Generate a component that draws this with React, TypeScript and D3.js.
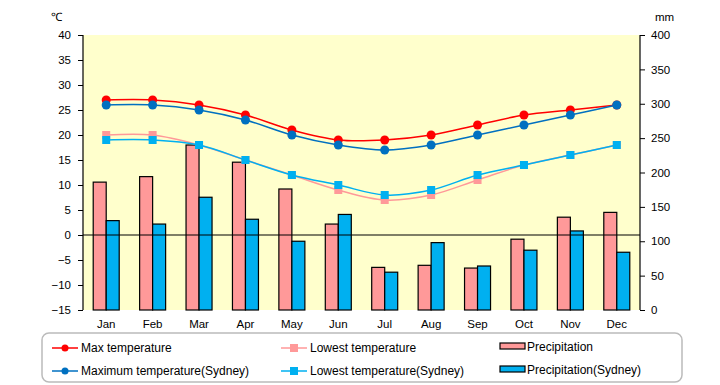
import React, { useRef, useEffect } from "react";
import * as d3 from "d3";

const months = ["Jan", "Feb", "Mar", "Apr", "May", "Jun", "Jul", "Aug", "Sep", "Oct", "Nov", "Dec"];
const maxTemp = [27, 27, 26, 24, 21, 19, 19, 20, 22, 24, 25, 26];
const lowTemp = [20, 20, 18, 15, 12, 9, 7, 8, 11, 14, 16, 18];
const maxTempSydney = [26, 26, 25, 23, 20, 18, 17, 18, 20, 22, 24, 26];
const lowTempSydney = [19, 19, 18, 15, 12, 10, 8, 9, 12, 14, 16, 18];
const precip = [186, 194, 240, 215, 176, 125, 62, 65, 61, 103, 135, 142];
const precipSydney = [130, 125, 164, 132, 100, 139, 55, 98, 64, 87, 115, 84];
const tempTicks = [-15, -10, -5, 0, 5, 10, 15, 20, 25, 30, 35, 40];
const mmTicks = [0, 50, 100, 150, 200, 250, 300, 350, 400];

const FONT = "'Liberation Sans', Arial, sans-serif";

const App: React.FC = () => {
  const ref = useRef<SVGSVGElement | null>(null);

  useEffect(() => {
    const svg = d3.select(ref.current);
    svg.selectAll("*").remove();

    const left = 83, right = 640, top = 35, bottom = 310;

    const x = d3.scaleBand<string>().domain(months).range([left, right]);
    const inner = d3.scaleBand<string>().domain(["a", "b"]).range([0, 26]);
    const xOff = (x.bandwidth() - 26) / 2;
    const yT = d3.scaleLinear().domain([-15, 40]).range([bottom, top]);
    const yP = d3.scaleLinear().domain([0, 400]).range([bottom, top]);
    const cx = (m: string) => (x(m) as number) + x.bandwidth() / 2;

    // plot background
    svg.append("rect")
      .attr("x", left).attr("y", top)
      .attr("width", right - left).attr("height", bottom - top)
      .attr("fill", "#FFFFCC");

    // bars
    const bars = [
      { key: "a", vals: precip, fill: "#FF9999" },
      { key: "b", vals: precipSydney, fill: "#00B0F0" },
    ];
    bars.forEach((b) => {
      svg.append("g").selectAll("rect")
        .data(b.vals)
        .join("rect")
        .attr("x", (_d, i) => (x(months[i]) as number) + xOff + (inner(b.key) as number))
        .attr("y", (d) => yP(d))
        .attr("width", inner.bandwidth())
        .attr("height", (d) => yP(0) - yP(d))
        .attr("fill", b.fill)
        .attr("stroke", "#000")
        .attr("stroke-width", 1.2);
    });

    // zero line
    svg.append("line")
      .attr("x1", left).attr("x2", right)
      .attr("y1", yT(0)).attr("y2", yT(0))
      .attr("stroke", "#000").attr("stroke-width", 1.2);

    // axes
    const axL = svg.append("g")
      .attr("transform", `translate(${left},0)`)
      .call(d3.axisLeft(yT).tickValues(tempTicks).tickSize(5).tickFormat((d) => {
        const v = d as number;
        return v < 0 ? "\u2212" + Math.abs(v) : String(v);
      }));
    axL.select(".domain").attr("stroke", "#000").attr("stroke-width", 1.2).attr("d", `M0,${top}V${bottom}`);
    axL.selectAll("text").attr("x", -12).style("font-family", FONT).style("font-size", "11.5px").attr("fill", "#000");

    const axR = svg.append("g")
      .attr("transform", `translate(${right},0)`)
      .call(d3.axisRight(yP).tickValues(mmTicks).tickSize(5));
    axR.select(".domain").attr("stroke", "#000").attr("stroke-width", 1.2).attr("d", `M0,${top}V${bottom}`);
    axR.selectAll("text").attr("x", 11).style("font-family", FONT).style("font-size", "11.5px").attr("fill", "#000");

    svg.append("g").selectAll("text")
      .data(months)
      .join("text")
      .attr("x", (m) => cx(m))
      .attr("y", 328)
      .attr("text-anchor", "middle")
      .style("font-family", FONT).style("font-size", "11.5px")
      .text((m) => m);

    svg.append("text").attr("x", 51).attr("y", 21)
      .style("font-family", FONT).style("font-size", "11.5px").text("\u2103");
    svg.append("text").attr("x", 655).attr("y", 21)
      .style("font-family", FONT).style("font-size", "11.5px").text("mm");

    // lines
    const line = d3.line<number>()
      .x((_d, i) => cx(months[i]))
      .y((d) => yT(d))
      .curve(d3.curveCatmullRom.alpha(0.5));

    const series = [
      { vals: maxTemp, color: "#FF0000", marker: "circle" },
      { vals: lowTemp, color: "#FF9999", marker: "square" },
      { vals: maxTempSydney, color: "#0070C0", marker: "circle" },
      { vals: lowTempSydney, color: "#00B0F0", marker: "square" },
    ];
    series.forEach((s) => {
      svg.append("path")
        .datum(s.vals)
        .attr("fill", "none")
        .attr("stroke", s.color)
        .attr("stroke-width", 1.5)
        .attr("d", line);
      const g = svg.append("g");
      if (s.marker === "circle") {
        g.selectAll("circle").data(s.vals).join("circle")
          .attr("cx", (_d, i) => cx(months[i]))
          .attr("cy", (d) => yT(d))
          .attr("r", 4.5)
          .attr("fill", s.color);
      } else {
        g.selectAll("rect").data(s.vals).join("rect")
          .attr("x", (_d, i) => cx(months[i]) - 4)
          .attr("y", (d) => yT(d) - 4)
          .attr("width", 8).attr("height", 8)
          .attr("fill", s.color);
      }
    });

    // legend
    svg.append("rect")
      .attr("x", 42).attr("y", 333).attr("width", 640).attr("height", 49)
      .attr("rx", 7).attr("fill", "#fff")
      .attr("stroke", "#BBBBBB").attr("stroke-width", 1.5);

    const legendItems = [
      { label: "Max temperature", color: "#FF0000", kind: "circle", lx: 52, ly: 348 },
      { label: "Lowest temperature", color: "#FF9999", kind: "square", lx: 281, ly: 348 },
      { label: "Precipitation", color: "#FF9999", kind: "bar", lx: 500, ly: 346 },
      { label: "Maximum temperature(Sydney)", color: "#0070C0", kind: "circle", lx: 52, ly: 371 },
      { label: "Lowest temperature(Sydney)", color: "#00B0F0", kind: "square", lx: 281, ly: 371 },
      { label: "Precipitation(Sydney)", color: "#00B0F0", kind: "bar", lx: 500, ly: 369 },
    ];
    legendItems.forEach((it) => {
      const g = svg.append("g");
      if (it.kind === "bar") {
        g.append("rect").attr("x", it.lx).attr("y", it.ly - 3).attr("width", 25).attr("height", 6)
          .attr("fill", it.color).attr("stroke", "#000").attr("stroke-width", 1.2);
        g.append("text").attr("x", it.lx + 27).attr("y", it.ly + 5)
          .style("font-family", FONT).style("font-size", "12px").text(it.label);
      } else {
        g.append("line").attr("x1", it.lx).attr("x2", it.lx + 26).attr("y1", it.ly).attr("y2", it.ly)
          .attr("stroke", it.color).attr("stroke-width", 1.5);
        if (it.kind === "circle") {
          g.append("circle").attr("cx", it.lx + 13).attr("cy", it.ly).attr("r", 3.5).attr("fill", it.color);
        } else {
          g.append("rect").attr("x", it.lx + 9).attr("y", it.ly - 4).attr("width", 8).attr("height", 8).attr("fill", it.color);
        }
        g.append("text").attr("x", it.lx + 29).attr("y", it.ly + 4)
          .style("font-family", FONT).style("font-size", "12px").text(it.label);
      }
    });
  }, []);

  return (
    <svg
      ref={ref}
      width={720}
      height={385}
      style={{ position: "absolute", left: 0, top: 0, background: "#fff" }}
    />
  );
};

export default App;
